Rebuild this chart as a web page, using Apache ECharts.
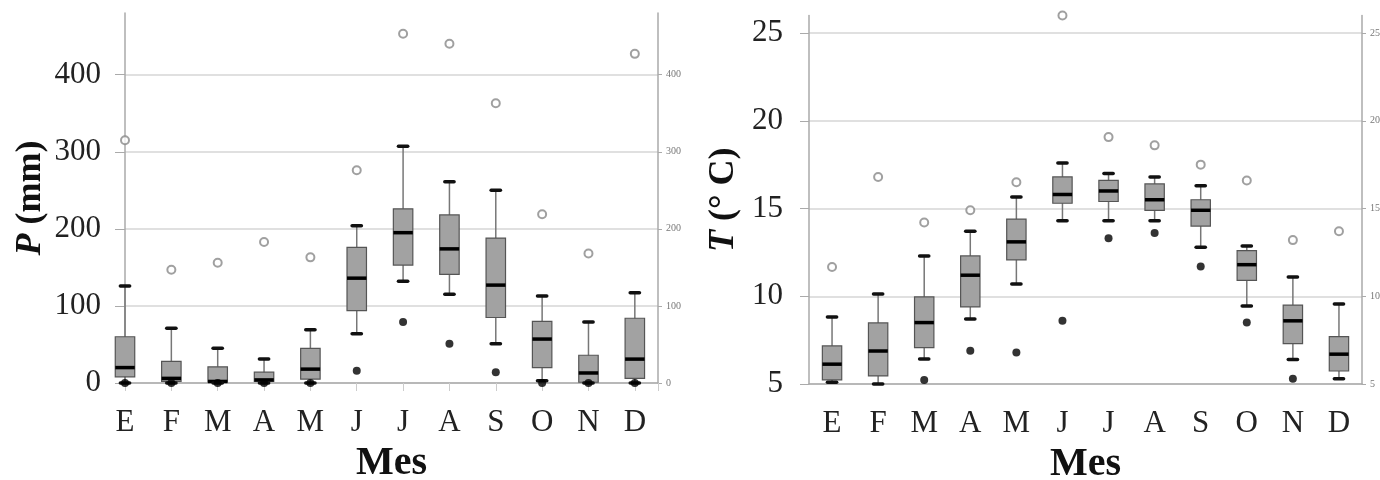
<!DOCTYPE html>
<html>
<head>
<meta charset="utf-8">
<script src="https://cdn.jsdelivr.net/npm/echarts@6/dist/echarts.min.js"></script>
<style>
  html, body { margin: 0; padding: 0; background: #fff; }
  #chart { width: 1380px; height: 480px; }
</style>
</head>
<body>
<div id="chart"></div>
<script>
const months = ['E', 'F', 'M', 'A', 'M', 'J', 'J', 'A', 'S', 'O', 'N', 'D']

// precipitation P (mm): [min, Q1, median, Q3, max]
const precipBoxes = [
  [0, 8, 20, 60, 126],
  [0, 2, 6, 28, 71],
  [0, 1, 2, 21, 45],
  [0, 2, 4, 14, 31],
  [0, 5, 18, 45, 69],
  [64, 94, 136, 176, 204],
  [132, 153, 195, 226, 307],
  [115, 141, 174, 218, 261],
  [51, 85, 127, 188, 250],
  [3, 20, 57, 80, 113],
  [0, 1, 13, 36, 79],
  [0, 6, 31, 84, 117]
]
const precipHigh = [315, 147, 156, 183, 163, 276, 453, 440, 363, 219, 168, 427]
const precipLow = [0, 0, 0, 0, 0, 16, 79, 51, 14, 0, 0, 0]

// temperature T (deg C): [min, Q1, median, Q3, max]
const tempBoxes = [
  [5.1, 5.23, 6.13, 7.17, 8.82],
  [5.0, 5.46, 6.88, 8.48, 10.13],
  [6.42, 7.07, 8.5, 9.96, 12.3],
  [8.7, 9.39, 11.2, 12.3, 13.7],
  [10.7, 12.07, 13.1, 14.4, 15.65],
  [14.3, 15.3, 15.8, 16.8, 17.6],
  [14.3, 15.4, 16.0, 16.6, 17.0],
  [14.3, 14.9, 15.5, 16.4, 16.8],
  [12.8, 14.0, 14.9, 15.5, 16.3],
  [9.44, 10.9, 11.8, 12.6, 12.86],
  [6.4, 7.3, 8.6, 9.5, 11.1],
  [5.3, 5.74, 6.7, 7.7, 9.56]
]
const tempHigh = [11.67, 16.8, 14.2, 14.9, 16.5, 26.0, 19.07, 18.6, 17.5, 16.6, 13.2, 13.7]
const tempLow = [null, null, 5.23, 6.9, 6.8, 8.6, 13.3, 13.6, 11.7, 8.5, 5.3, null]

const serif = '"Liberation Serif", "DejaVu Serif", serif'

function renderBox(params, api) {
  const x = api.value(0)
  const step = api.size([1, 0])[0]
  const boxW = step * 0.42
  const capW = step * 0.2
  const lo = api.coord([x, api.value(1)])
  const q1 = api.coord([x, api.value(2)])
  const med = api.coord([x, api.value(3)])
  const q3 = api.coord([x, api.value(4)])
  const hi = api.coord([x, api.value(5)])
  const cx = med[0]
  return {
    type: 'group',
    children: [
      { type: 'line', shape: { x1: cx, y1: lo[1], x2: cx, y2: hi[1] }, style: { stroke: '#777', lineWidth: 1.5 } },
      { type: 'rect', shape: { x: cx - boxW / 2, y: q3[1], width: boxW, height: q1[1] - q3[1] },
        style: { fill: '#a2a2a2', stroke: '#555', lineWidth: 1.2 } },
      { type: 'line', shape: { x1: cx - boxW / 2, y1: med[1], x2: cx + boxW / 2, y2: med[1] }, style: { stroke: '#000', lineWidth: 3.5 } },
      { type: 'line', shape: { x1: cx - capW / 2, y1: hi[1], x2: cx + capW / 2, y2: hi[1] }, style: { stroke: '#111', lineWidth: 3.5, lineCap: 'round' } },
      { type: 'line', shape: { x1: cx - capW / 2, y1: lo[1], x2: cx + capW / 2, y2: lo[1] }, style: { stroke: '#111', lineWidth: 3.5, lineCap: 'round' } }
    ]
  }
}

const precipBoxData = precipBoxes.map((b, i) => [i + 1].concat(b))
const precipHighData = precipHigh.map((v, i) => [i + 1, v])
const precipLowData = precipLow.map((v, i) => [i + 1, v])
const tempBoxData = tempBoxes.map((b, i) => [i].concat(b))
const tempHighData = tempHigh.map((v, i) => [i, v])
const tempLowData = tempLow.map((v, i) => [i, v]).filter(d => d[1] !== null)

const axisGray = '#aaa'
const mainLabel = { fontFamily: serif, fontSize: 31, color: '#222' }
const smallLabel = { fontFamily: serif, fontSize: 10, color: '#777', margin: 8 }
const gridLine = { show: true, showMaxLine: false, lineStyle: { color: '#e0e0e0', width: 2 } }

const chart = echarts.init(document.getElementById('chart'))
chart.setOption({
  backgroundColor: '#fff',
  animation: false,
  grid: [
    { left: 125, right: 722, top: 13, bottom: 97, outerBoundsMode: 'none' },
    { left: 809, right: 18, top: 15.5, bottom: 96, outerBoundsMode: 'none' }
  ],
  xAxis: [
    {
      type: 'value', gridIndex: 0, min: 1, max: 12.5, interval: 1,
      name: 'Mes', nameLocation: 'middle', nameGap: 61,
      nameTextStyle: { fontFamily: serif, fontSize: 40, fontWeight: 'bold', color: '#111' },
      axisLine: { lineStyle: { color: axisGray, width: 1.5 } },
      axisTick: { length: 8, lineStyle: { color: '#ccc' } },
      axisLabel: Object.assign({}, mainLabel, { margin: 24, formatter: v => (Number.isInteger(v) && v >= 1 && v <= 12) ? months[v - 1] : '' }),
      splitLine: { show: false }
    },
    {
      type: 'category', gridIndex: 1, data: months,
      name: 'Mes', nameLocation: 'middle', nameGap: 61,
      nameTextStyle: { fontFamily: serif, fontSize: 40, fontWeight: 'bold', color: '#111' },
      axisLine: { lineStyle: { color: axisGray, width: 1.5 } },
      axisTick: { length: 8, lineStyle: { color: '#ccc' } },
      axisLabel: Object.assign({}, mainLabel, { margin: 24, interval: 0 })
    }
  ],
  yAxis: [
    {
      type: 'value', gridIndex: 0, min: 0, max: 480, interval: 100, position: 'left',
      name: '{i|P} (mm)', nameLocation: 'middle', nameGap: 76,
      nameTextStyle: {
        fontFamily: serif, fontSize: 36, fontWeight: 'bold', color: '#111',
        rich: { i: { fontFamily: serif, fontSize: 36, fontWeight: 'bold', fontStyle: 'italic', color: '#111' } }
      },
      axisLine: { show: true, lineStyle: { color: axisGray, width: 1.5 } },
      axisTick: { show: true, length: 10, lineStyle: { color: axisGray } },
      axisLabel: Object.assign({}, mainLabel, { margin: 24, showMaxLabel: false }),
      splitLine: gridLine
    },
    {
      type: 'value', gridIndex: 0, min: 0, max: 480, interval: 100, position: 'right',
      axisLine: { show: true, lineStyle: { color: axisGray, width: 1.5 } },
      axisTick: { show: true, length: 4, lineStyle: { color: axisGray } },
      axisLabel: Object.assign({}, smallLabel, { showMaxLabel: false }),
      splitLine: { show: false }
    },
    {
      type: 'value', gridIndex: 1, min: 5, max: 26, interval: 5, position: 'left',
      name: '{i|T} (° C)', nameLocation: 'middle', nameGap: 67,
      nameTextStyle: {
        fontFamily: serif, fontSize: 36, fontWeight: 'bold', color: '#111',
        rich: { i: { fontFamily: serif, fontSize: 36, fontWeight: 'bold', fontStyle: 'italic', color: '#111' } }
      },
      axisLine: { show: true, lineStyle: { color: axisGray, width: 1.5 } },
      axisTick: { show: true, length: 9, lineStyle: { color: axisGray } },
      axisLabel: Object.assign({}, mainLabel, { margin: 26, showMaxLabel: false }),
      splitLine: gridLine
    },
    {
      type: 'value', gridIndex: 1, min: 5, max: 26, interval: 5, position: 'right',
      axisLine: { show: true, lineStyle: { color: axisGray, width: 1.5 } },
      axisTick: { show: true, length: 4, lineStyle: { color: axisGray } },
      axisLabel: Object.assign({}, smallLabel, { showMaxLabel: false }),
      splitLine: { show: false }
    }
  ],
  series: [
    {
      type: 'custom', xAxisIndex: 0, yAxisIndex: 0, renderItem: renderBox,
      encode: { x: 0, y: [1, 2, 3, 4, 5] }, data: precipBoxData, clip: false, z: 2
    },
    {
      type: 'scatter', xAxisIndex: 0, yAxisIndex: 0, data: precipHighData, symbolSize: 8,
      itemStyle: { color: '#fff', borderColor: '#888', borderWidth: 2 }, clip: false, z: 3
    },
    {
      type: 'scatter', xAxisIndex: 0, yAxisIndex: 0, data: precipLowData, symbolSize: 8,
      itemStyle: { color: '#000' }, clip: false, z: 3
    },
    {
      type: 'custom', xAxisIndex: 1, yAxisIndex: 2, renderItem: renderBox,
      encode: { x: 0, y: [1, 2, 3, 4, 5] }, data: tempBoxData, clip: false, z: 2
    },
    {
      type: 'scatter', xAxisIndex: 1, yAxisIndex: 2, data: tempHighData, symbolSize: 8,
      itemStyle: { color: '#fff', borderColor: '#888', borderWidth: 2 }, clip: false, z: 3
    },
    {
      type: 'scatter', xAxisIndex: 1, yAxisIndex: 2, data: tempLowData, symbolSize: 8,
      itemStyle: { color: '#000' }, clip: false, z: 3
    }
  ]
})
</script>
</body>
</html>
